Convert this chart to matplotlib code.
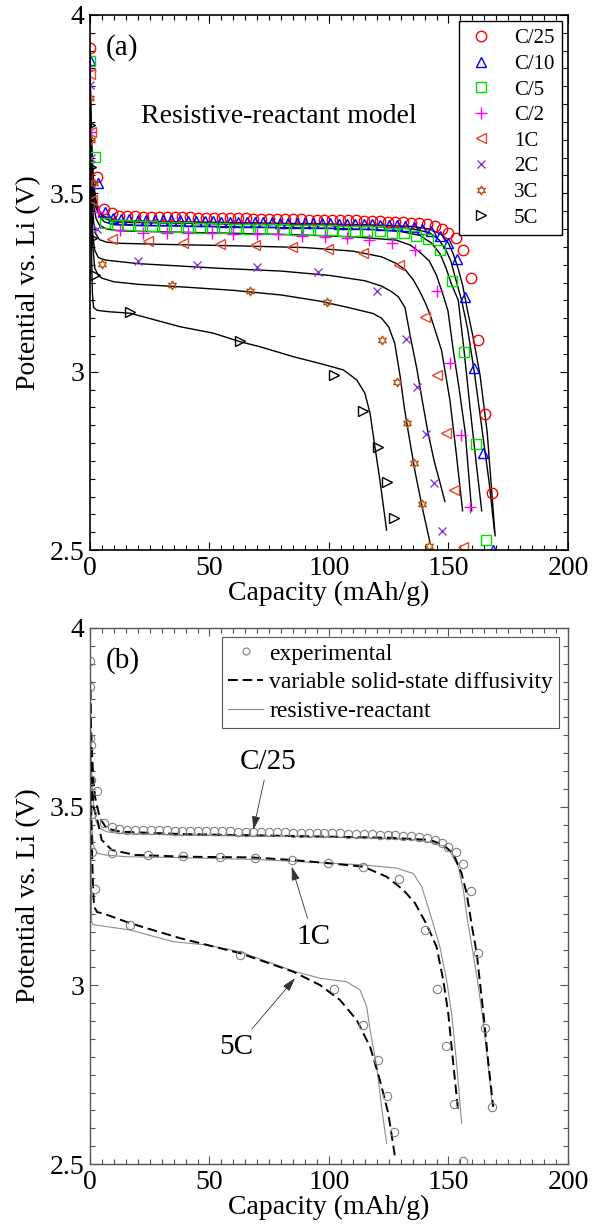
import numpy as np
import matplotlib
matplotlib.use("Agg")
import matplotlib.pyplot as plt
from matplotlib.lines import Line2D
from matplotlib.ticker import MultipleLocator

plt.rcParams['font.family'] = ['Liberation Serif', 'DejaVu Serif']

# ---- panel (a): experimental points ----
c25_x = [0.0, 3.0, 5.9, 9.0, 12.3, 15.6, 18.9, 22.2, 25.5, 28.8, 32.1, 35.4, 38.7, 42.0, 45.3, 48.6,
         51.9, 55.2, 58.5, 61.8, 65.1, 68.4, 71.7, 75.0, 78.3, 81.6, 84.9, 88.2, 91.5, 94.8, 98.1,
         101.4, 104.7, 108.0, 111.3, 114.6, 117.9, 121.2, 124.5, 127.8, 131.1, 134.4, 137.7, 141.0,
         144.3, 147.1, 149.9, 153.0, 156.2, 159.3, 162.2, 165.3, 168.3]
c25_y = [3.907, 3.545, 3.455, 3.444, 3.437, 3.436, 3.436, 3.435, 3.435, 3.434, 3.434, 3.433, 3.433,
         3.433, 3.432, 3.432, 3.431, 3.431, 3.431, 3.430, 3.430, 3.429, 3.429, 3.429, 3.428, 3.428,
         3.427, 3.427, 3.426, 3.426, 3.426, 3.425, 3.425, 3.424, 3.424, 3.423, 3.423, 3.422, 3.421,
         3.420, 3.419, 3.418, 3.416, 3.413, 3.408, 3.399, 3.388, 3.374, 3.340, 3.264, 3.090, 2.880,
         2.660]

c10_x = [0.0, 3.5, 6.2, 9.5, 13.0, 16.5, 20.0, 23.5, 27.0, 30.5, 34.0, 37.5, 41.0, 44.5, 48.0, 51.5,
         55.0, 58.5, 62.0, 65.5, 69.0, 72.5, 76.0, 79.5, 83.0, 86.5, 90.0, 93.5, 97.0, 100.5, 104.0,
         107.5, 111.0, 114.5, 118.0, 121.5, 125.0, 128.5, 132.0, 135.5, 139.0, 142.5, 146.4, 149.9,
         153.4, 156.9, 160.8, 164.6, 168.5]
c10_y = [3.874, 3.528, 3.448, 3.430, 3.428, 3.427, 3.426, 3.426, 3.425, 3.425, 3.424, 3.424, 3.423,
         3.423, 3.422, 3.422, 3.421, 3.421, 3.420, 3.420, 3.420, 3.419, 3.419, 3.418, 3.418, 3.417,
         3.417, 3.416, 3.416, 3.416, 3.415, 3.415, 3.414, 3.414, 3.413, 3.412, 3.411, 3.410, 3.408,
         3.405, 3.401, 3.394, 3.380, 3.362, 3.315, 3.209, 3.010, 2.773, 2.500]

c5_x = [0.0, 2.1, 6.1, 11.1, 16.1, 21.1, 26.1, 31.1, 36.1, 41.1, 46.1, 51.1, 56.1, 61.1, 66.1, 71.1,
        76.1, 81.1, 86.1, 91.1, 96.1, 101.1, 106.0, 110.9, 116.0, 121.3, 126.2, 131.4, 136.4, 141.5,
        146.4, 151.5, 156.6, 161.5, 165.7]
c5_y = [3.871, 3.603, 3.418, 3.412, 3.410, 3.409, 3.408, 3.407, 3.406, 3.405, 3.404, 3.403, 3.402,
        3.401, 3.401, 3.400, 3.399, 3.399, 3.398, 3.398, 3.397, 3.397, 3.395, 3.395, 3.393, 3.393,
        3.390, 3.388, 3.380, 3.371, 3.341, 3.254, 3.056, 2.796, 2.528]

c2_x = [0.0, 0.5, 3.5, 12.6, 22.3, 32.1, 41.1, 50.9, 60.0, 69.7, 78.8, 88.6, 98.3, 107.4, 116.9,
        126.2, 136.0, 145.0, 150.6, 155.2, 159.0]
c2_y = [3.846, 3.673, 3.449, 3.397, 3.390, 3.390, 3.388, 3.388, 3.386, 3.385, 3.385, 3.380, 3.377,
        3.374, 3.369, 3.362, 3.341, 3.227, 3.025, 2.823, 2.620]

r1_x = [0.0, 0.3, 1.0, 9.1, 24.4, 39.1, 54.4, 69.0, 84.4, 99.7, 114.4, 129.4, 140.2, 145.0, 149.0,
        152.3, 155.9]
r1_y = [3.835, 3.673, 3.480, 3.371, 3.365, 3.362, 3.358, 3.355, 3.350, 3.343, 3.332, 3.299, 3.154,
        2.991, 2.829, 2.668, 2.509]

r2_x = [0.0, 0.5, 2.8, 20.2, 44.6, 69.7, 95.5, 120.0, 132.2, 137.0, 140.6, 144.1, 147.1]
r2_y = [3.804, 3.600, 3.399, 3.311, 3.299, 3.293, 3.279, 3.227, 3.093, 2.958, 2.825, 2.689, 2.553]

r3_x = [0.0, 0.4, 1.7, 4.9, 34.2, 66.9, 99.0, 122.0, 128.6, 132.8, 135.6, 138.8, 141.8]
r3_y = [3.766, 3.650, 3.530, 3.302, 3.243, 3.226, 3.195, 3.089, 2.972, 2.855, 2.745, 2.629, 2.511]

r5_x = [0.0, 0.5, 1.0, 2.1, 16.7, 62.8, 102.0, 114.4, 120.4, 124.1, 127.3]
r5_y = [3.692, 3.575, 3.374, 3.271, 3.168, 3.086, 2.990, 2.890, 2.790, 2.690, 2.589]

# ---- panel (a): resistive-reactant model curves ----
m25_x = [0.0, 0.3, 0.8, 1.5, 2.5, 4.0, 6.0, 10.0, 20.0, 40.0, 60.0, 80.0, 100.0, 120.0, 135.0,
         142.0, 147.0, 150.0, 152.0, 154.0, 156.0, 158.0, 160.5, 163.2, 166.2, 169.5]
m25_y = [3.90, 3.75, 3.62, 3.53, 3.48, 3.45, 3.435, 3.425, 3.422, 3.420, 3.418, 3.416, 3.414, 3.411,
         3.407, 3.400, 3.385, 3.360, 3.330, 3.290, 3.240, 3.170, 3.090, 2.990, 2.830, 2.540]
m10_x = [0.0, 0.3, 0.8, 1.5, 2.5, 4.0, 6.0, 10.0, 20.0, 40.0, 60.0, 80.0, 100.0, 120.0, 135.0,
         142.0, 146.0, 149.0, 151.0, 153.0, 155.5, 158.0, 161.0, 164.0, 167.0, 169.3]
m10_y = [3.87, 3.73, 3.60, 3.52, 3.47, 3.445, 3.43, 3.42, 3.418, 3.416, 3.414, 3.412, 3.410, 3.407,
         3.400, 3.390, 3.370, 3.340, 3.310, 3.260, 3.200, 3.120, 2.990, 2.840, 2.690, 2.550]
m5_x = [0.0, 0.3, 0.8, 1.5, 2.5, 4.0, 6.0, 10.0, 20.0, 40.0, 60.0, 80.0, 100.0, 120.0, 130.0, 138.0,
        143.0, 146.5, 149.0, 151.0, 154.1, 156.5, 159.0, 161.5, 163.9]
m5_y = [3.85, 3.71, 3.58, 3.50, 3.46, 3.435, 3.42, 3.412, 3.410, 3.408, 3.406, 3.404, 3.402, 3.398,
        3.393, 3.382, 3.360, 3.330, 3.290, 3.250, 3.200, 3.060, 2.900, 2.750, 2.610]
m2_x = [0.0, 0.3, 0.8, 1.5, 2.5, 4.0, 7.0, 12.0, 30.0, 60.0, 90.0, 110.0, 128.0, 134.0, 138.0, 142.0,
        145.0, 147.5, 149.8, 152.0, 154.5, 157.0, 159.7]
m2_y = [3.82, 3.68, 3.55, 3.47, 3.43, 3.41, 3.40, 3.395, 3.392, 3.388, 3.383, 3.378, 3.369, 3.355,
        3.335, 3.310, 3.270, 3.220, 3.170, 3.060, 2.950, 2.830, 2.610]
m1c_x = [0.0, 0.3, 0.8, 1.5, 2.5, 4.0, 7.0, 12.0, 30.0, 60.0, 90.0, 110.0, 122.0, 128.0, 132.0, 135.3,
         138.0, 140.5, 142.3, 147.1, 150.6, 153.1, 155.9]
m1c_y = [3.78, 3.63, 3.50, 3.42, 3.385, 3.37, 3.363, 3.360, 3.357, 3.353, 3.348, 3.338, 3.322, 3.304,
         3.285, 3.257, 3.225, 3.190, 3.160, 3.060, 2.920, 2.780, 2.610]
m2c_x = [0.0, 0.3, 0.7, 1.2, 2.0, 3.5, 6.3, 20.0, 53.7, 80.0, 100.0, 115.0, 122.0, 126.0, 129.0, 131.8,
         134.0, 136.7, 139.0, 141.4, 144.0, 146.4, 148.5]
m2c_y = [3.76, 3.61, 3.47, 3.38, 3.34, 3.32, 3.313, 3.303, 3.290, 3.282, 3.270, 3.255, 3.240, 3.225,
         3.210, 3.180, 3.100, 3.010, 2.920, 2.830, 2.750, 2.690, 2.636]
m3c_x = [0.0, 0.3, 0.7, 1.2, 2.0, 3.5, 5.0, 10.0, 20.0, 40.0, 60.0, 80.0, 96.0, 108.0, 118.5, 122.0,
         125.0, 127.5, 129.7, 131.5, 133.2, 136.0, 139.0, 142.3]
m3c_y = [3.74, 3.58, 3.45, 3.35, 3.29, 3.27, 3.262, 3.252, 3.245, 3.237, 3.228, 3.215, 3.198, 3.180,
         3.163, 3.150, 3.125, 3.080, 2.990, 2.900, 2.830, 2.720, 2.620, 2.520]
m5c_x = [0.0, 0.3, 0.6, 1.0, 1.5, 3.0, 8.0, 16.7, 37.7, 51.6, 62.8, 71.1, 85.1, 96.2, 106.0, 111.6,
         115.0, 117.2, 119.2, 121.3, 124.1]
m5c_y = [3.70, 3.50, 3.35, 3.22, 3.18, 3.172, 3.168, 3.164, 3.126, 3.108, 3.084, 3.070, 3.042, 3.023,
         3.005, 2.977, 2.940, 2.883, 2.790, 2.696, 2.556]

# ---- panel (b): variable solid-state diffusivity (dashed) ----
d25_x = [0.0, 0.3, 0.7, 1.4, 2.1, 3.0, 4.2, 7.0, 12.6, 40.0, 67.6, 101.0, 125.0, 142.3, 147.8, 152.0,
         155.5, 157.6, 159.7, 161.8, 164.6, 166.7, 168.7]
d25_y = [3.87, 3.76, 3.668, 3.58, 3.528, 3.50, 3.467, 3.439, 3.430, 3.423, 3.420, 3.416, 3.413, 3.407,
         3.393, 3.369, 3.313, 3.257, 3.170, 3.090, 2.922, 2.782, 2.660]
d1_x = [0.0, 0.3, 0.7, 1.4, 2.8, 4.9, 9.1, 18.8, 39.7, 67.7, 84.4, 101.1, 114.4, 124.1, 131.1, 136.0,
        140.9, 145.0, 147.8, 149.9, 151.3, 152.7, 154.1]
d1_y = [3.87, 3.72, 3.60, 3.50, 3.472, 3.407, 3.379, 3.365, 3.360, 3.358, 3.351, 3.341, 3.332, 3.304,
        3.267, 3.230, 3.170, 3.108, 3.015, 2.922, 2.828, 2.735, 2.645]
d5_x = [0.0, 0.2, 0.5, 0.8, 1.2, 1.7, 3.0, 5.6, 16.7, 37.7, 62.8, 85.1, 96.2, 104.6, 111.6, 117.2,
        121.3, 124.8, 127.6]
d5_y = [3.87, 3.70, 3.50, 3.39, 3.29, 3.22, 3.205, 3.201, 3.174, 3.132, 3.090, 3.038, 3.001, 2.959,
        2.903, 2.828, 2.735, 2.642, 2.521]

# ---- panel (b): resistive-reactant (gray) ----
g25_x = [0.0, 0.3, 0.8, 1.5, 2.5, 4.0, 7.0, 12.0, 40.0, 80.0, 110.0, 135.0, 143.0, 148.0, 150.6, 154.1,
         156.2, 158.0, 160.0, 162.0, 164.5, 166.5, 168.2]
g25_y = [3.88, 3.72, 3.58, 3.50, 3.46, 3.44, 3.43, 3.425, 3.42, 3.417, 3.414, 3.408, 3.400, 3.390,
         3.375, 3.332, 3.267, 3.180, 3.100, 3.020, 2.900, 2.780, 2.670]
g1_x = [0.0, 0.3, 0.7, 1.5, 3.0, 6.3, 15.0, 40.0, 70.0, 100.0, 114.4, 128.3, 135.3, 138.8, 142.3,
        146.4, 149.2, 151.3, 153.4, 155.5]
g1_y = [3.80, 3.60, 3.45, 3.39, 3.37, 3.365, 3.36, 3.357, 3.352, 3.342, 3.337, 3.328, 3.313, 3.276,
        3.201, 3.108, 3.015, 2.922, 2.782, 2.614]
g5_x = [0.0, 0.2, 0.5, 0.7, 1.2, 16.7, 34.9, 48.8, 62.8, 85.1, 96.2, 107.4, 113.0, 115.8, 117.2,
        120.0, 122.0, 124.1]
g5_y = [3.80, 3.55, 3.30, 3.178, 3.17, 3.155, 3.122, 3.113, 3.094, 3.040, 3.020, 3.010, 2.987, 2.940,
        2.875, 2.772, 2.660, 2.558]

rate_labels = ['C/25', 'C/10', 'C/5', 'C/2', '1C', '2C', '3C', '5C']


def style_axes(ax, frame_color='black', lw=1.2):
    ax.set_xlim(0, 200)
    ax.set_ylim(2.5, 4.0)
    ax.set_xticks([0, 50, 100, 150, 200])
    ax.set_yticks([2.5, 3.0, 3.5, 4.0])
    ax.set_yticklabels(['2.5', '3', '3.5', '4'])
    ax.xaxis.set_minor_locator(MultipleLocator(5))
    ax.yaxis.set_minor_locator(MultipleLocator(0.05))
    ax.tick_params(which='both', direction='in', top=True, right=True, labelsize=20,
                   color=frame_color, width=0.8)
    ax.tick_params(which='major', length=6, pad=4)
    ax.tick_params(which='minor', length=3.5)
    for s in ax.spines.values():
        s.set_color(frame_color)
        s.set_linewidth(lw)
    ax.set_xlabel('Capacity (mAh/g)', fontsize=20, labelpad=0)
    ax.set_ylabel('Potential vs. Li (V)', fontsize=20, labelpad=6)


fig = plt.figure(figsize=(5.94, 12.28), dpi=100)
ax1 = fig.add_axes([0.1515, 0.5521, 0.8047, 0.4357])
ax2 = fig.add_axes([0.1515, 0.0521, 0.8047, 0.4365])

# panel (a)
for mx, my in [(m25_x, m25_y), (m10_x, m10_y), (m5_x, m5_y), (m2_x, m2_y), (m1c_x, m1c_y),
               (m2c_x, m2c_y), (m3c_x, m3c_y), (m5c_x, m5c_y)]:
    ax1.plot(mx, my, color='black', lw=1.0)

series = [
    (c25_x, c25_y, 'o', '#ff0000', 7.5, 'none'),
    (c10_x, c10_y, '^', '#0000ff', 7.5, 'none'),
    (c5_x, c5_y, 's', '#00dd00', 6.5, 'none'),
    (c2_x, c2_y, '+', '#ff00ff', 8, None),
    (r1_x, r1_y, '<', '#e5472c', 7.5, 'none'),
    (r2_x, r2_y, 'x', '#8a38e0', 5.5, None),
    (r3_x, r3_y, (6, 1, 0), '#b85512', 6.5, 'none'),
    (r5_x, r5_y, '>', '#000000', 7.5, 'none'),
]
handles = []
for (sx, sy, mk, col, ms, mfc), lab in zip(series, rate_labels):
    kw = dict(marker=mk, color=col, ms=ms, ls='none', mew=1.0)
    if mfc is not None:
        kw['mfc'] = mfc
    ax1.plot(sx, sy, **kw)
    handles.append(Line2D([], [], label=lab, **kw))

leg = ax1.legend(handles=handles, loc='upper right', bbox_to_anchor=(0.987, 0.988), fontsize=15,
                 frameon=True, fancybox=False, edgecolor='black', framealpha=1,
                 handlelength=1.4, handletextpad=0.9, labelspacing=0.29, borderpad=0.35,
                 borderaxespad=0)
leg.get_frame().set_linewidth(1.0)

ax1.text(13.2, 3.91, '(a)', fontsize=21, ha='center', va='center')
ax1.text(78.8, 3.715, 'Resistive-reactant model', fontsize=20, ha='center', va='center')
style_axes(ax1)

# panel (b)
for gx, gy in [(g25_x, g25_y), (g1_x, g1_y), (g5_x, g5_y)]:
    ax2.plot(gx, gy, color='#8c8c8c', lw=0.8)
for dx, dy in [(d25_x, d25_y), (d1_x, d1_y), (d5_x, d5_y)]:
    ax2.plot(dx, dy, color='black', lw=1.4, dashes=(5, 2.5))
for ex, ey in [(c25_x, c25_y), (r1_x, r1_y), (r5_x, r5_y)]:
    ax2.plot(ex, ey, 'o', ms=6, mfc='none', mec='#808080', mew=0.8)

h2 = [Line2D([], [], marker='o', ls='none', ms=5, mfc='none', mec='#808080', mew=0.8,
             label='experimental'),
      Line2D([], [], color='black', lw=1.4, dashes=(5, 2.5), label='variable solid-state diffusivity'),
      Line2D([], [], color='#8c8c8c', lw=0.8, label='resistive-reactant')]
leg2 = ax2.legend(handles=h2, loc='upper right', bbox_to_anchor=(0.981, 0.983), fontsize=17,
                  frameon=True, fancybox=False, edgecolor='#555555', framealpha=1,
                  handlelength=1.5, handletextpad=0.25, labelspacing=0.3, borderpad=0.25,
                  borderaxespad=0)
leg2.get_frame().set_linewidth(0.8)

arrow = dict(arrowstyle='-|>,head_length=0.4,head_width=0.12', color='#333333', lw=0.6,
             shrinkA=2, shrinkB=0)
ax2.annotate('C/25', xy=(68.3, 3.435), xytext=(74.6, 3.626), fontsize=21, ha='center', va='center',
             arrowprops=arrow)
ax2.annotate('1C', xy=(84.4, 3.332), xytext=(93.4, 3.136), fontsize=21, ha='center', va='center',
             arrowprops=arrow)
ax2.annotate('5C', xy=(85.8, 3.02), xytext=(61.4, 2.828), fontsize=21, ha='center', va='center',
             arrowprops=arrow)
ax2.text(13.9, 3.91, '(b)', fontsize=21, ha='center', va='center')
style_axes(ax2, frame_color='#555555', lw=1.0)

fig.savefig('out.png', dpi=100)
